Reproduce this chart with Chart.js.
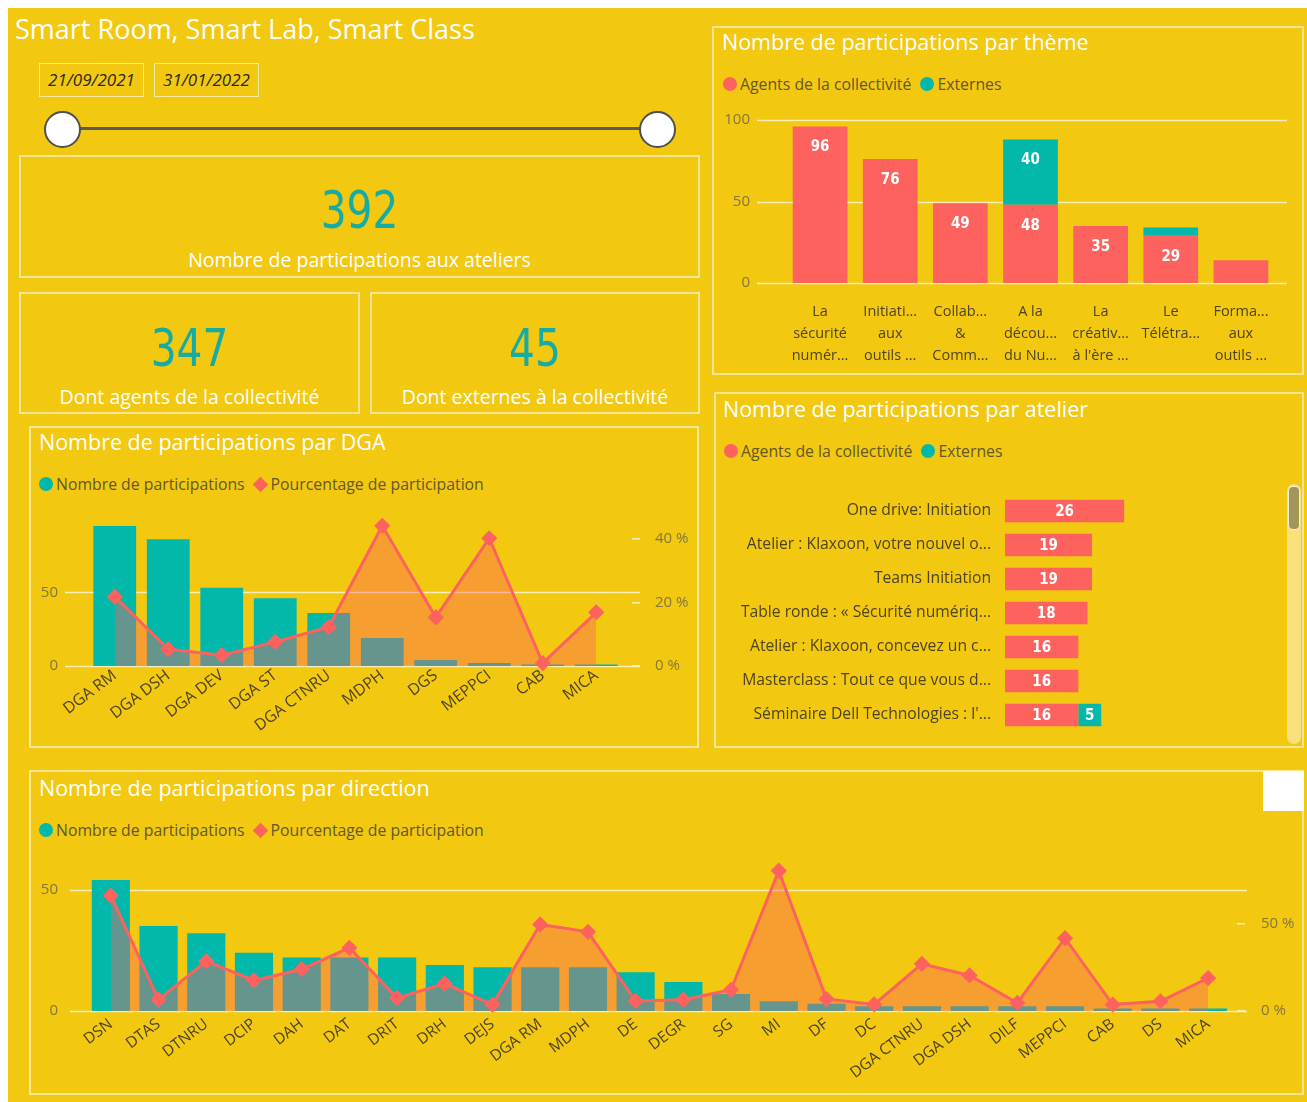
<!DOCTYPE html>
<html>
<head>
<meta charset="UTF-8">
<title>Smart Room, Smart Lab, Smart Class</title>
<script src="https://cdn.jsdelivr.net/npm/chart.js@4.4.1/dist/chart.umd.min.js"></script>
<style>
  body{margin:0;width:1307px;height:1102px;overflow:hidden;background:#fff;position:relative;font-family:"Open Sans",sans-serif;}
  #board{position:absolute;left:8px;top:8px;width:1299px;height:1094px;background:#F2C811;}
  .box{position:absolute;box-sizing:border-box;border:2px solid rgba(255,255,255,.55);}
  .txt{position:absolute;white-space:nowrap;}
  .title{color:#fff;font-size:21.5px;line-height:26px;}
  .kpi{position:absolute;text-align:center;color:#17ACA3;font-family:"DejaVu Sans Condensed",sans-serif;font-size:52px;line-height:60px;transform:scaleX(.87);}
  .kpilab{position:absolute;text-align:center;color:#fff;font-size:19.5px;line-height:24px;}
  .date{position:absolute;top:63px;width:105px;height:34px;box-sizing:border-box;border:1.5px solid rgba(255,255,255,.6);
        font-style:italic;font-size:17px;line-height:31px;text-align:center;color:#2f2a18;}
  .knob{position:absolute;top:111px;width:37px;height:37px;box-sizing:border-box;border-radius:50%;background:#fff;border:2.5px solid #4f4f4f;}
  .legend{position:absolute;display:flex;align-items:center;font-size:15.8px;color:#655828;height:20px;}
  .dot{width:14px;height:14px;border-radius:50%;margin-right:3px;}
  .dia{width:11px;height:11px;transform:rotate(45deg);margin:0 5px 0 10px;}
  canvas{position:absolute;}
</style>
</head>
<body>
<div id="board"></div>

<div class="txt" style="left:15px;top:12px;color:#fff;font-size:27px;line-height:34px;">Smart Room, Smart Lab, Smart Class</div>
<div class="date" style="left:39px;">21/09/2021</div>
<div class="date" style="left:154px;">31/01/2022</div>
<div style="position:absolute;left:62px;top:127px;width:595px;height:3px;background:#5a5a5a;"></div>
<div class="knob" style="left:44px;"></div>
<div class="knob" style="left:639px;"></div>

<div class="box" style="left:19px;top:155px;width:681px;height:123px;"></div>
<div class="kpi" style="left:19px;top:180px;width:681px;">392</div>
<div class="kpilab" style="left:19px;top:248px;width:681px;">Nombre de participations aux ateliers</div>

<div class="box" style="left:19px;top:292px;width:341px;height:122px;"></div>
<div class="kpi" style="left:19px;top:318px;width:341px;">347</div>
<div class="kpilab" style="left:19px;top:385px;width:341px;">Dont agents de la collectivité</div>

<div class="box" style="left:370px;top:292px;width:330px;height:122px;"></div>
<div class="kpi" style="left:370px;top:318px;width:330px;">45</div>
<div class="kpilab" style="left:370px;top:385px;width:330px;">Dont externes à la collectivité</div>

<!-- thème -->
<div class="box" style="left:712px;top:26px;width:592px;height:349px;"></div>
<div class="txt title" style="left:722px;top:29px;">Nombre de participations par thème</div>
<div class="legend" style="left:723px;top:74px;"><div class="dot" style="background:#FD625E"></div>Agents de la collectivité<div class="dot" style="background:#01B8AA;margin-left:9px"></div>Externes</div>
<canvas id="cTheme" width="592" height="272" style="left:712px;top:100px;"></canvas>

<!-- atelier -->
<div class="box" style="left:714px;top:392px;width:590px;height:356px;"></div>
<div class="txt title" style="left:723px;top:396px;">Nombre de participations par atelier</div>
<div class="legend" style="left:724px;top:441px;"><div class="dot" style="background:#FD625E"></div>Agents de la collectivité<div class="dot" style="background:#01B8AA;margin-left:9px"></div>Externes</div>
<canvas id="cAtelier" width="571" height="248" style="left:714px;top:490px;"></canvas>
<div style="position:absolute;left:1287px;top:484px;width:14px;height:260px;border-radius:7px;background:rgba(255,255,255,.45);"></div>
<div style="position:absolute;left:1288px;top:486px;width:12px;height:44px;box-sizing:border-box;border-radius:5px;background:#A39659;border:1.5px solid rgba(255,255,255,.85);"></div>

<!-- DGA -->
<div class="box" style="left:29px;top:426px;width:670px;height:322px;"></div>
<div class="txt title" style="left:39px;top:429px;">Nombre de participations par DGA</div>
<div class="legend" style="left:39px;top:474px;"><div class="dot" style="background:#01B8AA"></div>Nombre de participations<div class="dia" style="background:#FD625E"></div>Pourcentage de participation</div>
<canvas id="cDga" width="670" height="245" style="left:29px;top:500px;"></canvas>

<!-- direction -->
<div class="box" style="left:29px;top:770px;width:1275px;height:325px;"></div>
<div class="txt title" style="left:39px;top:775px;">Nombre de participations par direction</div>
<div class="legend" style="left:39px;top:820px;"><div class="dot" style="background:#01B8AA"></div>Nombre de participations<div class="dia" style="background:#FD625E"></div>Pourcentage de participation</div>
<canvas id="cDir" width="1275" height="247" style="left:29px;top:845px;"></canvas>
<div style="position:absolute;left:1263px;top:771px;width:41px;height:40px;background:#fff;"></div>

<script>
// ---- data ----
const themeLabels = [["La","sécurité","numér..."],["Initiati...","aux","outils ..."],["Collab...","&","Comm..."],
  ["A la","décou...","du Nu..."],["La","créativ...","à l'ère ..."],["Le","Télétra..."],["Forma...","aux","outils ..."]];
const themeAgents = [96,76,49,48,35,29,14];
const themeExternes = [0,0,0,40,0,5,0];

const atelierLabels = ["One drive: Initiation","Atelier : Klaxoon, votre nouvel o...","Teams Initiation",
  "Table ronde : « Sécurité numériq...","Atelier : Klaxoon, concevez un c...","Masterclass : Tout ce que vous d...",
  "Séminaire Dell Technologies : l'..."];
const atelierAgents = [26,19,19,18,16,16,16];
const atelierExternes = [0,0,0,0,0,0,5];

const dgaLabels = ["DGA RM","DGA DSH","DGA DEV","DGA ST","DGA CTNRU","MDPH","DGS","MEPPCI","CAB","MICA"];
const dgaCount = [95,86,53,46,36,19,4,2,1,1];
const dgaPct = [21.8,5.3,3.4,7.6,12.3,44.1,15.3,40.2,0.9,16.9];

const dirLabels = ["DSN","DTAS","DTNRU","DCIP","DAH","DAT","DRIT","DRH","DEJS","DGA RM","MDPH","DE","DEGR","SG",
  "MI","DF","DC","DGA CTNRU","DGA DSH","DILF","MEPPCI","CAB","DS","MICA"];
const dirCount = [54,35,32,24,22,22,22,19,18,18,18,16,12,7,4,3,2,2,2,2,2,1,1,1];
const dirPct = [66.3,6.5,28.6,17.6,24,36.3,7.5,15.7,3.7,49.7,45.5,5.7,6.5,12.2,80.6,6.9,3.8,27.1,20.4,4.6,41.8,3.7,5.6,18.9];

// ---- styles ----
const SALMON = "#FD625E", TEAL = "#01B8AA", AREA = "rgba(253,98,94,0.4)";
const TICK = "#85773a", CAT = "#4f4420", GRID = "rgba(255,255,255,0.7)";
Chart.defaults.font.family = '"Open Sans", sans-serif';
Chart.defaults.animation = false;
Chart.defaults.responsive = false;

// fixed axis sizes so the plot areas land where the report has them
const fixV = w => s => { s.width = w; s.paddingTop = 0; s.paddingBottom = 0; };
const fixH = h => s => { s.height = h; s.paddingLeft = 0; s.paddingRight = 0; };

// horizontal grid lines that run past the plot area, like the original visuals
const wideGrid = {
  id: "wideGrid",
  beforeDatasetsDraw(chart, args, o) {
    const {ctx, chartArea} = chart, y = chart.scales.y;
    ctx.save();
    ctx.strokeStyle = GRID; ctx.lineWidth = 1.5;
    y.ticks.forEach(t => {
      const py = Math.round(y.getPixelForValue(t.value)) + 0.5;
      ctx.beginPath();
      ctx.moveTo(chartArea.left - o.left, py);
      ctx.lineTo(chartArea.right + o.right, py);
      ctx.stroke();
    });
    ctx.restore();
  }
};

// white value labels inside the bars
const barLabels = {
  id: "barLabels",
  afterDatasetsDraw(chart, args, o) {
    const ctx = chart.ctx, horiz = chart.options.indexAxis === "y";
    ctx.save();
    ctx.font = 'bold 15px "DejaVu Sans Condensed", sans-serif';
    ctx.fillStyle = "#fff"; ctx.textAlign = "center"; ctx.textBaseline = "middle";
    chart.data.datasets.forEach((ds, di) => {
      chart.getDatasetMeta(di).data.forEach((bar, i) => {
        const v = ds.data[i];
        if (!v) return;
        const size = Math.abs(horiz ? bar.x - bar.base : bar.base - bar.y);
        if (size < o.min) return;
        if (horiz) ctx.fillText(v, (bar.x + bar.base) / 2, bar.y + 1);
        else ctx.fillText(v, bar.x, bar.y + o.offset);
      });
    });
    ctx.restore();
  }
};

// ---- thème ----
new Chart(document.getElementById("cTheme"), {
  type: "bar",
  data: {
    labels: themeLabels,
    datasets: [
      {label: "Agents de la collectivité", data: themeAgents, backgroundColor: SALMON, barPercentage: 0.78, categoryPercentage: 1},
      {label: "Externes", data: themeExternes, backgroundColor: TEAL, barPercentage: 0.78, categoryPercentage: 1}
    ]
  },
  options: {
    layout: {padding: {top: 20, right: 28, left: 0, bottom: 0}},
    scales: {
      x: {stacked: true, grid: {display: false, drawTicks: false}, border: {display: false},
          ticks: {color: CAT, font: {size: 14.5, lineHeight: 1.5}, padding: 18, maxRotation: 0, autoSkip: false},
          afterFit: fixH(89)},
      y: {stacked: true, min: 0, max: 100, grid: {display: false, drawTicks: false}, border: {display: false},
          ticks: {stepSize: 50, color: TICK, font: {size: 15}, padding: 35},
          afterFit: fixV(73)}
    },
    plugins: {legend: {display: false}, tooltip: {enabled: false},
              wideGrid: {left: 28, right: 11}, barLabels: {min: 30, offset: 21}}
  },
  plugins: [wideGrid, barLabels]
});

// ---- atelier ----
new Chart(document.getElementById("cAtelier"), {
  type: "bar",
  data: {
    labels: atelierLabels,
    datasets: [
      {label: "Agents de la collectivité", data: atelierAgents, backgroundColor: SALMON, barPercentage: 0.66, categoryPercentage: 1},
      {label: "Externes", data: atelierExternes, backgroundColor: TEAL, barPercentage: 0.66, categoryPercentage: 1}
    ]
  },
  options: {
    indexAxis: "y",
    layout: {padding: {top: 4, right: 5, left: 0, bottom: 6}},
    scales: {
      x: {display: false, stacked: true, min: 0, max: 60},
      y: {stacked: true, grid: {display: false, drawTicks: false}, border: {display: false},
          ticks: {color: CAT, font: {size: 15.7}, padding: 14, autoSkip: false},
          afterFit: fixV(291)}
    },
    plugins: {legend: {display: false}, tooltip: {enabled: false}, barLabels: {min: 1}}
  },
  plugins: [barLabels]
});

// ---- combo charts (DGA, direction) ----
function comboChart(id, labels, counts, pct, g) {
  return new Chart(document.getElementById(id), {
    data: {
      labels: labels,
      datasets: [
        {type: "bar", label: "Nombre de participations", data: counts, yAxisID: "y",
         backgroundColor: TEAL, barPercentage: 0.8, categoryPercentage: 1, order: 2},
        {type: "line", label: "Pourcentage de participation", data: pct, yAxisID: "y1",
         borderColor: SALMON, borderWidth: 3, backgroundColor: AREA, fill: "origin", tension: 0,
         pointStyle: "rectRot", pointRadius: 6, pointBackgroundColor: SALMON, pointBorderColor: SALMON,
         clip: false, order: 1}
      ]
    },
    options: {
      layout: {padding: {top: g.top, right: 0, left: 0, bottom: 0}},
      scales: {
        x: {grid: {display: false, drawTicks: false}, border: {display: false},
            ticks: {color: CAT, font: {size: g.xf}, padding: g.xpad, minRotation: 37, maxRotation: 37, autoSkip: false},
            afterFit: fixH(g.xh)},
        y: {min: 0, max: g.max, grid: {display: false, drawTicks: false}, border: {display: false},
            ticks: {stepSize: 50, includeBounds: false, color: TICK, font: {size: 15}, padding: g.lpad},
            afterFit: fixV(g.lw)},
        y1: {position: "right", min: 0, max: g.pmax, border: {display: false},
             grid: {drawOnChartArea: false, drawTicks: true, tickLength: g.tl, color: GRID, lineWidth: 1.5,
                    tickBorderDash: [0, g.tl - 8, 8, 40]},
             ticks: {stepSize: g.pstep, includeBounds: false, color: TICK, font: {size: 15}, padding: g.rpad,
                     callback: v => v + " %"},
             afterFit: fixV(g.rw)}
      },
      plugins: {legend: {display: false}, tooltip: {enabled: false}, wideGrid: {left: g.gl, right: g.gr}}
    },
    plugins: [wideGrid]
  });
}

comboChart("cDga", dgaLabels, dgaCount, dgaPct,
  {top: 23, xh: 79, xf: 16, xpad: 0, max: 97, pmax: 45, pstep: 20, lw: 59, lpad: 30, rw: 76, tl: 17, rpad: 15, gl: 23, gr: 17});
comboChart("cDir", dirLabels, dirCount, dirPct,
  {top: 18, xh: 81, xf: 15.5, xpad: 4, max: 61, pmax: 85, pstep: 50, lw: 58, lpad: 29, rw: 72, tl: 13, rpad: 16, gl: 17, gr: 15});
</script>
</body>
</html>
